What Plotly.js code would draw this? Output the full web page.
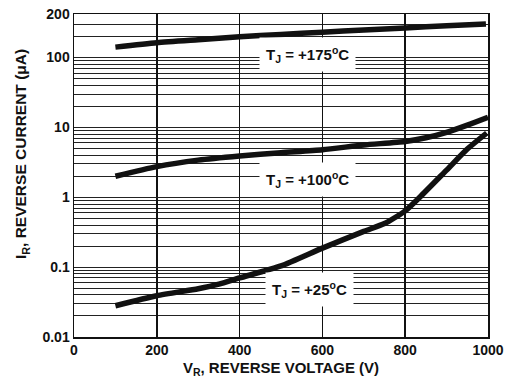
<!DOCTYPE html>
<html>
<head>
<meta charset="utf-8">
<script src="https://cdn.plot.ly/plotly-3.0.1.min.js"></script>
<style>html,body{margin:0;padding:0;background:#fff;}#chart{width:506px;height:384px;}</style>
</head>
<body>
<div id="chart"></div>
<script>
// Reverse voltage (V) vs reverse current (uA)
const vR175 = [100, 200, 300, 400, 500, 600, 700, 800, 900, 995];
const iR175 = [141, 163, 180, 198, 214, 230, 248, 265, 285, 303];

const vR100 = [100, 200, 300, 400, 500, 600, 700, 800, 850, 900, 950, 1000];
const iR100 = [2.0, 2.75, 3.4, 3.9, 4.35, 4.8, 5.6, 6.3, 7.1, 8.5, 10.8, 14];

const vR25 = [100, 200, 300, 350, 400, 500, 600, 700, 750, 800, 835, 900, 950, 997];
const iR25 = [0.028, 0.039, 0.049, 0.057, 0.07, 0.104, 0.187, 0.325, 0.42, 0.64, 1.0, 2.45, 4.9, 8.3];

const seriesLabels = ['T<sub>J</sub> = +175<sup>o</sup>C', 'T<sub>J</sub> = +100<sup>o</sup>C', 'T<sub>J</sub> = +25<sup>o</sup>C'];
const labelX = [565, 563, 568];
const labelY = [109, 1.78, 0.0475];

const xTickVals = [0, 200, 400, 600, 800, 1000];
const xTickText = ['0', '200', '400', '600', '800', '1000'];

const yTop = 420;
const yDecades = [0.01, 0.1, 1, 10, 100];
const yLabelVals = [0.01, 0.1, 1, 10, 100, yTop];
const yLabelText = ['0.01', '0.1', '1', '10', '100', '200'];

const xTitle = 'V<sub>R</sub>, REVERSE VOLTAGE (V)';
const yTitle = 'I<sub>R</sub>, REVERSE CURRENT (μA)';

// minor gridlines at 2..9 times each decade
const yMinorVals = [];
yDecades.forEach(d => {
  for (let k = 2; k <= 9; k++) {
    if (d * k <= 300) yMinorVals.push(d * k);
  }
});

const lineStyle = {color: '#111', width: 5.5, shape: 'spline', smoothing: 0.6};
const traces = [
  {x: vR175, y: iR175, mode: 'lines', line: lineStyle, hoverinfo: 'skip'},
  {x: vR100, y: iR100, mode: 'lines', line: lineStyle, hoverinfo: 'skip'},
  {x: vR25, y: iR25, mode: 'lines', line: lineStyle, hoverinfo: 'skip'}
];

const fontFam = 'Liberation Sans, Arial, sans-serif';
const boldFont = (s) => ({family: fontFam, size: s, weight: 'bold', color: '#111'});
const layout = {
  width: 506, height: 384,
  margin: {l: 74, r: 18, t: 14, b: 47},
  paper_bgcolor: '#fff', plot_bgcolor: '#fff',
  showlegend: false,
  font: {family: fontFam, color: '#111'},
  xaxis: {
    range: [0, 1000],
    tickvals: xTickVals, ticktext: xTickText,
    ticks: '', showgrid: true, gridcolor: '#111', gridwidth: 1.5,
    showline: true, linecolor: '#111', linewidth: 1.5, mirror: true,
    zeroline: false,
    tickfont: boldFont(14),
    title: {text: xTitle, font: boldFont(15), standoff: 5}
  },
  yaxis: {
    type: 'log',
    range: [-2, Math.log10(yTop)],
    tickvals: yLabelVals, ticktext: yLabelText,
    ticks: '', showgrid: true, gridcolor: '#222', gridwidth: 1,
    minor: {tickvals: yMinorVals, showgrid: true, gridcolor: '#222', gridwidth: 1, ticks: ''},
    showline: true, linecolor: '#111', linewidth: 1.5, mirror: true,
    zeroline: false,
    tickfont: boldFont(14)
  },
  annotations: seriesLabels.map((t, i) => ({
    x: labelX[i], y: Math.log10(labelY[i]), xref: 'x', yref: 'y',
    text: t, showarrow: false, bgcolor: '#fff', borderpad: 6,
    font: boldFont(15)
  })).concat([{
    x: -0.125, y: 0.567, xref: 'paper', yref: 'paper',
    text: yTitle, textangle: -90, showarrow: false,
    xanchor: 'center', yanchor: 'middle',
    font: boldFont(15.5)
  }])
};

Plotly.newPlot('chart', traces, layout, {staticPlot: true, displayModeBar: false});
</script>
</body>
</html>
